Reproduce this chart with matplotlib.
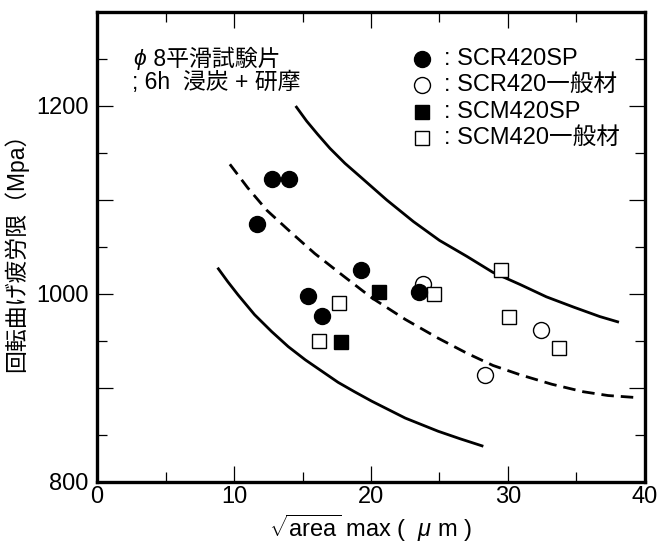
import matplotlib
matplotlib.use("Agg")
import matplotlib.pyplot as plt
from matplotlib.ticker import MultipleLocator

plt.rcParams['font.family'] = ['Liberation Sans', 'Noto Sans CJK JP', 'DejaVu Sans']
plt.rcParams['mathtext.fontset'] = 'custom'
plt.rcParams['mathtext.rm'] = 'Liberation Sans'
plt.rcParams['mathtext.it'] = 'Liberation Sans:italic'

# Measured fatigue limits: sqrt(area) max (um) vs rotating bending fatigue limit (MPa)
scr_sp_x = [11.7, 12.8, 14.0, 19.3, 15.4, 16.4, 23.5]
scr_sp_y = [1074, 1122, 1122, 1025, 998, 977, 1002]

scr_gen_x = [23.8, 32.4, 28.3]
scr_gen_y = [1011, 962, 914]

scm_sp_x = [20.6, 17.8]
scm_sp_y = [1002, 949]

scm_gen_x = [17.7, 16.2, 24.6, 29.5, 30.1, 33.7]
scm_gen_y = [990, 950, 1000, 1025, 976, 943]

# Upper / mean / lower bound curves
upper_x = [14.5, 15.3, 16.1, 17.0, 18.1, 19.2, 21.15, 23.1, 25.0, 27.0, 28.9, 30.9, 32.8, 34.8, 36.7, 38.1]
upper_y = [1200, 1184, 1170, 1155, 1139, 1125, 1100, 1077, 1057, 1040, 1023, 1010, 997, 986, 976, 970]

mean_x = [9.7, 11.0, 12.4, 14.2, 15.9, 18.0, 20.05, 22.5, 24.9, 27.0, 28.9, 30.9, 33.2, 35.5, 37.3, 39.2]
mean_y = [1138, 1113, 1089, 1065, 1043, 1019, 996, 973, 953, 937, 924, 914, 904, 896, 892, 890]

lower_x = [8.8, 9.55, 10.3, 11.5, 12.75, 13.96, 15.2, 16.4, 17.6, 18.8, 20.05, 22.5, 24.9, 26.5, 28.2]
lower_y = [1028, 1013, 999, 978, 960, 944, 930, 918, 906, 896, 886, 868, 854, 846, 838]

legend_labels = [': SCR420SP', ': SCR420一般材', ': SCM420SP', ': SCM420一般材']

fig = plt.figure(figsize=(6.58, 5.44), dpi=100)
ax = fig.add_axes([97 / 658, 62 / 544, 548 / 658, 470 / 544])

ax.plot(upper_x, upper_y, color='black', lw=2.0, solid_capstyle='butt', solid_joinstyle='round')
ax.plot(mean_x, mean_y, color='black', lw=2.0, dashes=(4.5, 2.5))
ax.plot(lower_x, lower_y, color='black', lw=2.0, solid_capstyle='butt', solid_joinstyle='round')

ms_c = 11.5
ms_s = 10.5
ax.plot(scr_gen_x, scr_gen_y, 'o', ms=ms_c, mfc='white', mec='black', mew=1.0, ls='none')
ax.plot(scm_gen_x, scm_gen_y, 's', ms=ms_s, mfc='white', mec='black', mew=1.0, ls='none')
ax.plot(scr_sp_x, scr_sp_y, 'o', ms=ms_c, mfc='black', mec='black', mew=1.0, ls='none')
ax.plot(scm_sp_x, scm_sp_y, 's', ms=ms_s, mfc='black', mec='black', mew=1.0, ls='none')

ax.set_xlim(0, 40)
ax.set_ylim(800, 1300)
ax.xaxis.set_major_locator(MultipleLocator(10))
ax.xaxis.set_minor_locator(MultipleLocator(5))
ax.yaxis.set_major_locator(MultipleLocator(100))
ax.yaxis.set_minor_locator(MultipleLocator(50))
ax.set_yticks([800, 900, 1000, 1100, 1200])
ax.set_yticklabels(['800', '', '1000', '', '1200'])

ax.tick_params(which='both', direction='in', top=True, right=True, width=0.9, labelsize=17)
ax.tick_params(which='major', length=11.5)
ax.tick_params(which='minor', length=7.2)
ax.tick_params(axis='x', pad=3)
ax.tick_params(axis='y', pad=6)
for sp in ax.spines.values():
    sp.set_linewidth(2.4)

ax.set_ylabel('回転曲げ疲労限（Mpa）', fontsize=16.5, labelpad=6)
ax.set_xlabel(r'$\sqrt{\mathrm{area}}$ max (  $\mu$ m )', fontsize=17, labelpad=3)

# Specimen note
phi = ax.text(0.066, 0.898, r'$\phi$', transform=ax.transAxes,
              fontsize=16.5, va='center', ha='left')
ax.annotate(' 8平滑試験片', xy=(1.0, 0.5), xycoords=phi, fontsize=16.5,
            va='center', ha='left')
ax.text(0.064, 0.849, '; 6h  浸炭 + 研摩', transform=ax.transAxes,
        fontsize=16.5, va='center', ha='left')

# Legend rows
leg_styles = [('o', 'black', ms_c), ('o', 'white', ms_c), ('s', 'black', ms_s), ('s', 'white', ms_s)]
row_y = [0.901, 0.845, 0.788, 0.731]
for (mk, fc, ms), lab, yy in zip(leg_styles, legend_labels, row_y):
    ax.plot([0.593], [yy], mk, ms=ms, mfc=fc, mec='black', mew=1.0,
            transform=ax.transAxes, clip_on=False)
    ax.text(0.633, yy, lab, transform=ax.transAxes, fontsize=17,
            va='center', ha='left')

fig.savefig('out.png', dpi=100)
